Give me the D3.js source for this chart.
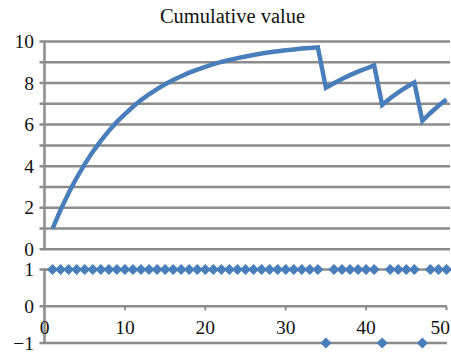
<!DOCTYPE html>
<html>
<head>
<meta charset="utf-8">
<script src="https://cdn.jsdelivr.net/npm/d3@7"></script>
<style>
  html, body { margin: 0; padding: 0; background: #fff; }
  svg { display: block; }
</style>
</head>
<body>
<script>
const title = "Cumulative value";
const steps = [1,2,3,4,5,6,7,8,9,10,11,12,13,14,15,16,17,18,19,20,21,22,23,24,25,26,27,28,29,30,31,32,33,34,35,36,37,38,39,40,41,42,43,44,45,46,47,48,49,50];
const cumulative = [1.00,1.90,2.71,3.44,4.10,4.69,5.22,5.70,6.13,6.51,6.86,7.18,7.46,7.71,7.94,8.15,8.33,8.50,8.65,8.78,8.91,9.02,9.11,9.20,9.28,9.35,9.42,9.48,9.53,9.58,9.62,9.66,9.69,9.72,7.77,7.99,8.20,8.38,8.55,8.70,8.85,6.95,7.27,7.55,7.80,8.03,6.18,6.56,6.91,7.21];
const reward = [1,1,1,1,1,1,1,1,1,1,1,1,1,1,1,1,1,1,1,1,1,1,1,1,1,1,1,1,1,1,1,1,1,1,-1,1,1,1,1,1,1,-1,1,1,1,1,-1,1,1,1];
const topGrid = [0,1,2,3,4,5,6,7,8,9,10];
const topLabels = [0,2,4,6,8,10];
const botTicks = [-1,0,1];
const xTicks = [0,10,20,30,40,50];

const W = 451, H = 354;
const blue = "#4a7ebb", gray = "#8c8c8c";
const FONT = "'Liberation Serif', 'Times New Roman', 'DejaVu Serif', serif";
const svg = d3.select("body").append("svg").attr("width", W).attr("height", H)
  .attr("font-family", FONT);

const x = d3.scaleLinear().domain([0, 50]).range([44.5, 446.5]);
const yTop = d3.scaleLinear().domain([0, 10]).range([249.3, 41.5]);
const yBot = d3.scaleLinear().domain([-1, 1]).range([343, 269.5]);

// title
svg.append("text").attr("x", 232.5).attr("y", 23).attr("text-anchor", "middle")
  .attr("font-family", FONT).attr("fill", "#111")
  .style("font-size", "20.5px").text(title);

// top panel gridlines
svg.append("g").selectAll("line").data(topGrid).join("line")
  .attr("x1", x(0) - 5).attr("x2", 450)
  .attr("y1", d => yTop(d)).attr("y2", d => yTop(d))
  .attr("stroke", gray).attr("stroke-width", 2.5);
// top left axis
svg.append("line").attr("x1", x(0)).attr("x2", x(0))
  .attr("y1", yTop(10) - 1).attr("y2", yTop(0) + 1)
  .attr("stroke", gray).attr("stroke-width", 2.5);
svg.append("g").selectAll("text").data(topLabels).join("text")
  .attr("x", 34).attr("y", d => yTop(d)).attr("dy", "0.34em")
  .attr("font-family", FONT).attr("fill", "#111")
  .attr("text-anchor", "end").style("font-size", "19.5px").text(d => d);

// top line
const line = d3.line().x((d, i) => x(steps[i])).y(d => yTop(d));
svg.append("path").datum(cumulative).attr("d", line)
  .attr("fill", "none").attr("stroke", blue).attr("stroke-width", 4.5)
  .attr("stroke-linejoin", "miter");

// bottom panel gridlines
svg.append("g").selectAll("line").data(botTicks).join("line")
  .attr("x1", x(0) - 5).attr("x2", 447)
  .attr("y1", d => yBot(d)).attr("y2", d => yBot(d))
  .attr("stroke", gray).attr("stroke-width", 2.5);
svg.append("line").attr("x1", x(0)).attr("x2", x(0))
  .attr("y1", yBot(1) - 1).attr("y2", yBot(-1) + 1)
  .attr("stroke", gray).attr("stroke-width", 2.5);
svg.append("g").selectAll("text").data(botTicks).join("text")
  .attr("x", 34).attr("y", d => yBot(d)).attr("dy", "0.34em")
  .attr("font-family", FONT).attr("fill", "#111")
  .attr("text-anchor", "end").style("font-size", "19.5px")
  .text(d => d < 0 ? "\u2212" + Math.abs(d) : d);

// x ticks on zero line
svg.append("g").selectAll("line").data(xTicks).join("line")
  .attr("x1", d => x(d)).attr("x2", d => x(d))
  .attr("y1", yBot(0)).attr("y2", yBot(0) + 4)
  .attr("stroke", gray).attr("stroke-width", 2);
svg.append("g").selectAll("text").data(xTicks).join("text")
  .attr("x", (d, i) => i === xTicks.length - 1 ? W - 1 : x(d)).attr("y", 334)
  .attr("font-family", FONT).attr("fill", "#111")
  .attr("text-anchor", (d, i) => i === xTicks.length - 1 ? "end" : "middle")
  .style("font-size", "19.5px").text(d => d);

// diamonds
svg.append("g").selectAll("path").data(reward).join("path")
  .attr("transform", (d, i) => `translate(${x(steps[i])},${yBot(d)})`)
  .attr("d", "M0,-5.6L5.6,0L0,5.6L-5.6,0Z")
  .attr("fill", blue);
</script>
</body>
</html>
